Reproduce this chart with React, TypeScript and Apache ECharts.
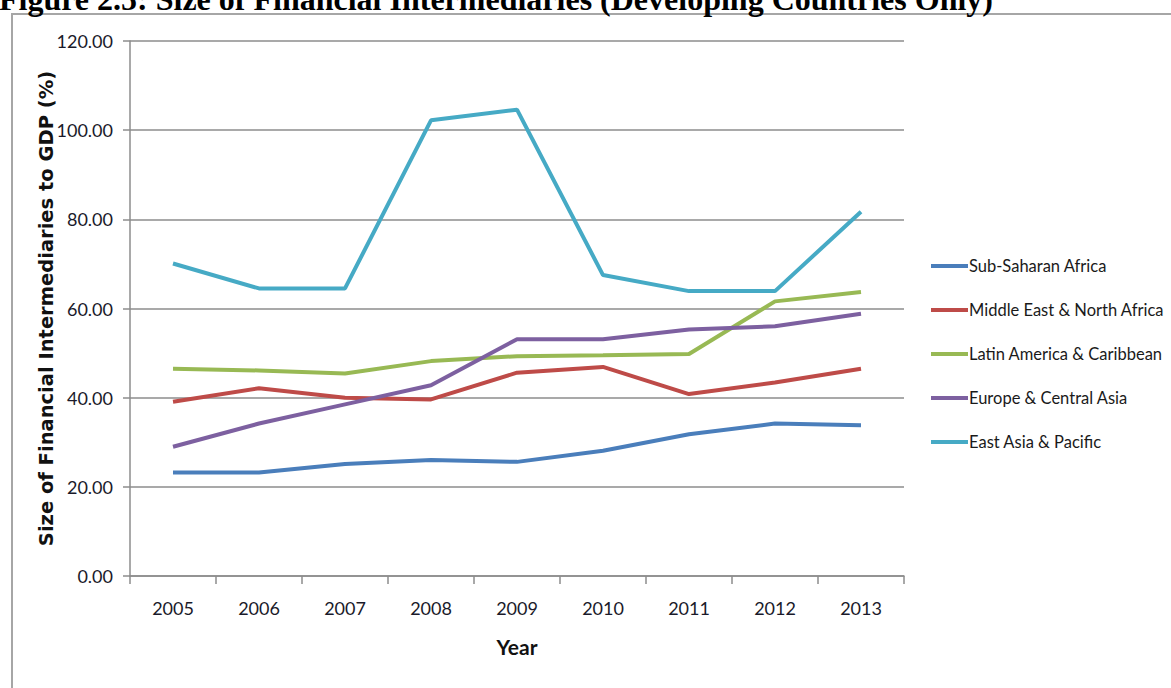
import React, { useEffect, useRef } from "react";
import * as echarts from "echarts";

// Years on the category axis
const years = ["2005", "2006", "2007", "2008", "2009", "2010", "2011", "2012", "2013"];

// Size of financial intermediaries to GDP (%), by region
const subSaharanAfrica = [23.2, 23.2, 25.1, 26.0, 25.6, 28.1, 31.8, 34.2, 33.8];
const middleEastNorthAfrica = [39.1, 42.1, 40.0, 39.6, 45.6, 46.9, 40.8, 43.4, 46.5];
const latinAmericaCaribbean = [46.5, 46.1, 45.4, 48.2, 49.3, 49.5, 49.8, 61.6, 63.7];
const europeCentralAsia = [29.0, 34.2, 38.5, 42.8, 53.1, 53.1, 55.3, 56.0, 58.8];
const eastAsiaPacific = [70.1, 64.5, 64.5, 102.2, 104.6, 67.5, 63.9, 63.9, 81.7];

const seriesNames = [
  "Sub-Saharan Africa",
  "Middle East & North Africa",
  "Latin America & Caribbean",
  "Europe & Central Asia",
  "East Asia & Pacific",
];
const seriesColors = ["#4a7ebb", "#be4b48", "#98b954", "#7d60a0", "#46aac5"];
const seriesData = [
  subSaharanAfrica,
  middleEastNorthAfrica,
  latinAmericaCaribbean,
  europeCentralAsia,
  eastAsiaPacific,
];

const yTicks = { min: 0, max: 120, interval: 20 };

const bodyFont = "Lato, 'Noto Sans', sans-serif";
const gridGray = "#8c8c8c";

export default function App() {
  const ref = useRef<HTMLDivElement>(null);

  useEffect(() => {
    if (!ref.current) return;
    const chart = echarts.init(ref.current, undefined, { renderer: "svg" });
    chart.setOption({
      animation: false,
      backgroundColor: "#ffffff",
      graphic: [
        {
          type: "text",
          left: -1,
          top: -17,
          z: 10,
          style: {
            text: "Figure 2.5: Size of Financial Intermediaries (Developing Countries Only)",
            font: "bold 32px 'Liberation Serif', 'Times New Roman', serif",
            fill: "#000000",
          },
        },
        {
          type: "rect",
          shape: { x: 12, y: 14, width: 1200, height: 700 },
          z: -1,
          style: { fill: "none", stroke: "#a6a6a6", lineWidth: 2 },
        },
      ],
      grid: { left: 130, right: 267, top: 41, bottom: 112, containLabel: false },
      legend: {
        orient: "vertical",
        left: 926,
        top: 252,
        icon: "rect",
        itemWidth: 37,
        itemHeight: 4,
        itemGap: 26,
        textStyle: {
          fontFamily: bodyFont,
          fontSize: 16.5,
          color: "#1a1a1a",
          lineHeight: 18,
          padding: [0, 0, 0, -4],
        },
        data: seriesNames,
      },
      xAxis: {
        type: "category",
        data: years,
        boundaryGap: true,
        name: "Year",
        nameLocation: "middle",
        nameGap: 60,
        nameMoveOverlap: false,
        nameTextStyle: { fontFamily: bodyFont, fontSize: 21, fontWeight: "bold", color: "#111" },
        axisLine: { lineStyle: { color: gridGray, width: 1.5 } },
        axisTick: { show: true, length: 8, lineStyle: { color: gridGray, width: 1.5 } },
        axisLabel: { fontFamily: bodyFont, fontSize: 18, color: "#1a1a2a", margin: 23 },
      },
      yAxis: {
        type: "value",
        min: yTicks.min,
        max: yTicks.max,
        interval: yTicks.interval,
        name: "Size of Financial Intermediaries to GDP (%)",
        nameLocation: "middle",
        nameGap: 74,
        nameMoveOverlap: false,
        nameTextStyle: {
          fontFamily: "'DejaVu Sans', Verdana, sans-serif",
          fontSize: 19.5,
          fontWeight: "bold",
          color: "#111",
        },
        axisLine: { show: true, lineStyle: { color: gridGray, width: 1.5 } },
        axisTick: { show: true, length: 7, lineStyle: { color: gridGray, width: 1.5 } },
        axisLabel: {
          fontFamily: bodyFont,
          fontSize: 18,
          color: "#1a1a2a",
          margin: 17,
          formatter: (v: number) => v.toFixed(2),
        },
        splitLine: { show: true, lineStyle: { color: gridGray, width: 1.5 } },
      },
      series: seriesNames.map((name, i) => ({
        name,
        type: "line",
        data: seriesData[i],
        showSymbol: false,
        symbol: "none",
        lineStyle: { color: seriesColors[i], width: 4 },
        itemStyle: { color: seriesColors[i] },
      })),
    });
    return () => chart.dispose();
  }, []);

  return (
    <div
      ref={ref}
      style={{ position: "fixed", left: 0, top: 0, width: 1171, height: 688, background: "#fff" }}
    />
  );
}
